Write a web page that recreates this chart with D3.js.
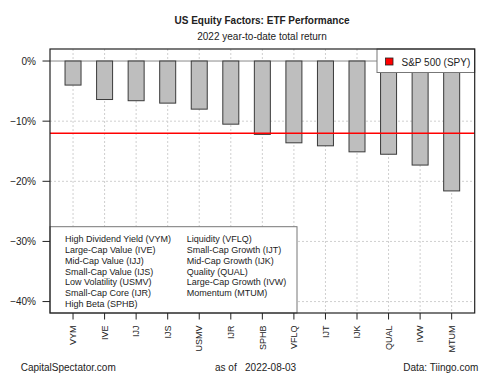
<!DOCTYPE html>
<html><head><meta charset="utf-8">
<script src="https://cdn.jsdelivr.net/npm/d3@7"></script>
<style>body{margin:0;background:#fff;} svg{display:block;font-family:"Liberation Sans",Arial,sans-serif;}</style>
</head><body>
<svg id="chart" width="500" height="375"></svg>
<script>
const tickers = ["VYM","IVE","IJJ","IJS","USMV","IJR","SPHB","VFLQ","IJT","IJK","QUAL","IVW","MTUM"];
const returns = [-4.0,-6.4,-6.6,-7.0,-8.0,-10.5,-12.2,-13.6,-14.1,-15.1,-15.5,-17.3,-21.6];
const spyReturn = -12.0;
const yTicks = [0,-10,-20,-30,-40];
const legendLeft = ["High Dividend Yield (VYM)","Large-Cap Value (IVE)","Mid-Cap Value (IJJ)","Small-Cap Value (IJS)","Low Volatility (USMV)","Small-Cap Core (IJR)","High Beta (SPHB)"];
const legendRight = ["Liquidity (VFLQ)","Small-Cap Growth (IJT)","Mid-Cap Growth (IJK)","Quality (QUAL)","Large-Cap Growth (IVW)","Momentum (MTUM)"];
const title = "US Equity Factors: ETF Performance";
const subtitle = "2022 year-to-date total return";
const footLeft = "CapitalSpectator.com";
const footMid = "as of   2022-08-03";
const footRight = "Data: Tiingo.com";
const spyLabel = "S&P 500 (SPY)";

const svg = d3.select("#chart");
const L = 50, R = 474.7, T = 49, B = 313;
const x = d3.scalePoint().domain(tickers).range([L, R]).padding(0.73);
const y = d3.scaleLinear().domain([2, -41.9]).range([T, B]);
const bw = 16;

// titles
svg.append("text").attr("x", 262).attr("y", 23.5).attr("text-anchor","middle")
  .attr("font-size", 10).attr("font-weight","bold").attr("fill","#222").text(title);
svg.append("text").attr("x", 262).attr("y", 40).attr("text-anchor","middle")
  .attr("font-size", 10).attr("fill","#222").text(subtitle);

// grid
const g = svg.append("g");
g.selectAll(".vg").data(tickers).join("line")
  .attr("x1", d=>x(d)).attr("x2", d=>x(d)).attr("y1", T).attr("y2", B)
  .attr("stroke","#cfcfcf").attr("stroke-dasharray","2,2");
g.selectAll(".hg").data(yTicks.filter(v=>v!==0)).join("line")
  .attr("x1", L).attr("x2", R).attr("y1", d=>y(d)).attr("y2", d=>y(d))
  .attr("stroke","#cfcfcf").attr("stroke-dasharray","2,2");
g.append("line").attr("x1", L).attr("x2", R).attr("y1", y(0)).attr("y2", y(0))
  .attr("stroke","#8a8a8a").attr("stroke-width",1);

// bars
g.selectAll(".bar").data(tickers).join("rect")
  .attr("x", d=>x(d)-bw/2).attr("width", bw)
  .attr("y", y(0)).attr("height", (d,i)=>y(returns[i]) - y(0))
  .attr("fill","#bebebe").attr("stroke","#3a3a3a").attr("stroke-width",1);

// SPY line
g.append("line").attr("x1", L).attr("x2", R).attr("y1", y(spyReturn)).attr("y2", y(spyReturn))
  .attr("stroke","#ff0000").attr("stroke-width",1.5);

// top-right legend
const lg = svg.append("g");
lg.append("rect").attr("x", 377).attr("y", T).attr("width", R-377).attr("height", 23.5)
  .attr("fill","#fff").attr("stroke","#777").attr("stroke-width",1);
lg.append("rect").attr("x", 385.5).attr("y", 58).attr("width", 7.5).attr("height", 7)
  .attr("fill","#ff0000").attr("stroke","#222").attr("stroke-width",0.8);
lg.append("text").attr("x", 401.5).attr("y", 65.5).attr("font-size",10).attr("fill","#222").text(spyLabel);

// bottom-left legend
const bl = svg.append("g");
bl.append("rect").attr("x", L).attr("y", 226.7).attr("width", 297-L).attr("height", B-226.7)
  .attr("fill","#fff").attr("stroke","#777").attr("stroke-width",1);
bl.selectAll(".ll").data(legendLeft).join("text")
  .attr("x", 65).attr("y", (d,i)=>239.3 + i*10.7).attr("dy","0.35em")
  .attr("font-size",9).attr("fill","#222").text(d=>d);
bl.selectAll(".lr").data(legendRight).join("text")
  .attr("x", 186.7).attr("y", (d,i)=>239.3 + i*10.7).attr("dy","0.35em")
  .attr("font-size",9).attr("fill","#222").text(d=>d);

// border
svg.append("rect").attr("x", L).attr("y", T).attr("width", R-L).attr("height", B-T)
  .attr("fill","none").attr("stroke","#222").attr("stroke-width",1.2);

// y axis
const ya = svg.append("g");
ya.selectAll(".yt").data(yTicks).join("line")
  .attr("x1", 42.5).attr("x2", L).attr("y1", d=>y(d)).attr("y2", d=>y(d))
  .attr("stroke","#222");
ya.selectAll(".yl").data(yTicks).join("text")
  .attr("x", 36).attr("y", d=>y(d)).attr("dy","0.35em").attr("text-anchor","end")
  .attr("font-size",10).attr("fill","#222").text(d=>d3.format("d")(d)+"%");

// x axis
const xa = svg.append("g");
xa.selectAll(".xt").data(tickers).join("line")
  .attr("x1", d=>x(d)).attr("x2", d=>x(d)).attr("y1", B).attr("y2", 319.5)
  .attr("stroke","#222");
xa.selectAll(".xl").data(tickers).join("text")
  .attr("transform", d=>`translate(${x(d)},325.5) rotate(-90)`)
  .attr("text-anchor","end").attr("dy","0.35em")
  .attr("font-size",9).attr("fill","#222").text(d=>d);

// footer
svg.append("text").attr("x", 20.7).attr("y", 370.5).attr("font-size",10).attr("fill","#222").text(footLeft);
svg.append("text").attr("x", 215).attr("y", 370.5).attr("font-size",10).attr("fill","#222")
  .attr("xml:space","preserve").style("white-space","pre").text(footMid);
svg.append("text").attr("x", 478.3).attr("y", 370.5).attr("text-anchor","end").attr("font-size",10).attr("fill","#222").text(footRight);
</script>
</body></html>
